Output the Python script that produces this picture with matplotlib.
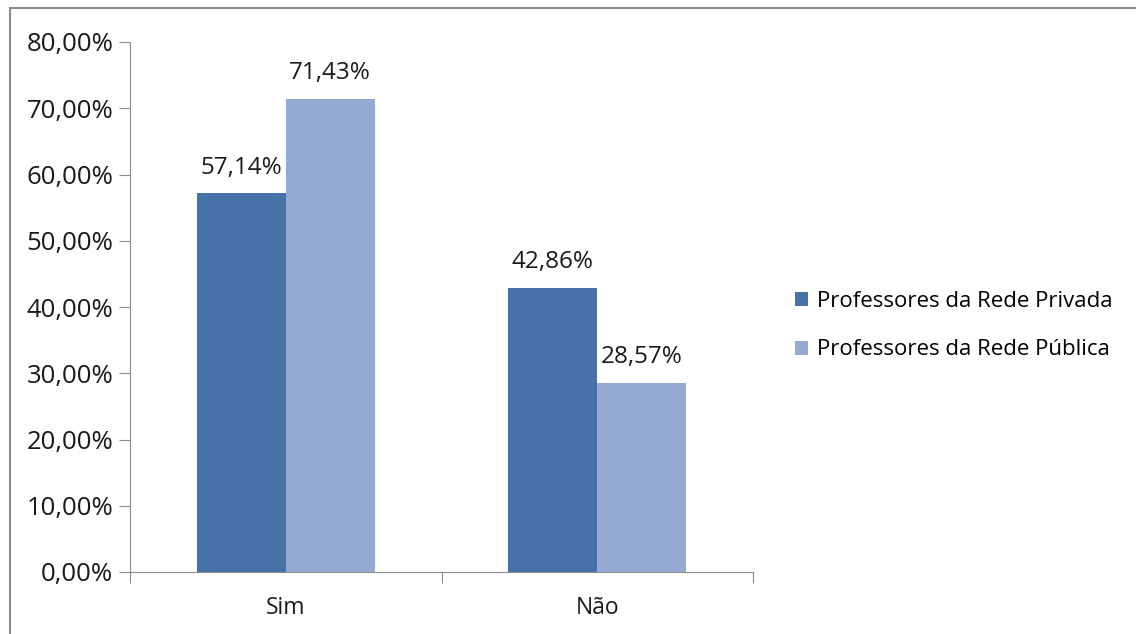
import matplotlib.pyplot as plt
import matplotlib.patches as patches
import numpy as np

plt.rcParams['font.family'] = ['Open Sans', 'DejaVu Sans']

categories = ['Sim', 'Não']
privada = [57.14, 42.86]
publica = [71.43, 28.57]
series_names = ['Professores da Rede Privada', 'Professores da Rede Pública']
colors = ['#4672A8', '#95AAD3']

fig = plt.figure(figsize=(11.36, 6.34), dpi=100)
ax = fig.add_axes([130 / 1136, 62 / 634, 623 / 1136, 530 / 634])

# outer frame like the pasted excel chart
fig.patches.append(patches.Rectangle((10 / 1136, -0.05), 1.2, 1 - 8 / 634 + 0.05,
                                     transform=fig.transFigure, fill=False,
                                     edgecolor='#8c8c8c', linewidth=1.5))

x = np.arange(len(categories))
w = 0.285
b1 = ax.bar(x - w / 2, privada, w, color=colors[0], label=series_names[0])
b2 = ax.bar(x + w / 2, publica, w, color=colors[1], label=series_names[1])

for bars, vals in ((b1, privada), (b2, publica)):
    for bar, v in zip(bars, vals):
        ax.annotate('{:.2f}%'.format(v).replace('.', ','),
                    (bar.get_x() + bar.get_width() / 2, v),
                    xytext=(0, 10), textcoords='offset points',
                    ha='center', va='bottom', fontsize=17.5, color='#1a1a1a')

ax.set_xlim(-0.5, 1.5)
ax.set_ylim(0, 80)
ax.set_yticks(np.arange(0, 81, 10))
ax.set_yticklabels(['{:.2f}%'.format(t).replace('.', ',') for t in np.arange(0, 81, 10)],
                   fontsize=18.5, color='#1a1a1a')
ax.set_xticks([-0.5, 0.5, 1.5])
ax.set_xticklabels([])
ax.set_xticks(x, minor=True)
ax.set_xticklabels(categories, minor=True, fontsize=16.5, color='#1a1a1a')
ax.tick_params(axis='x', which='minor', length=0, pad=17)
ax.tick_params(axis='x', which='major', length=8, color='#8c8c8c')
ax.tick_params(axis='y', length=8, color='#8c8c8c', pad=4)

for s in ['top', 'right']:
    ax.spines[s].set_visible(False)
for s in ['left', 'bottom']:
    ax.spines[s].set_color('#8c8c8c')

ax.legend(loc='center left', bbox_to_anchor=(1.035, 0.465), frameon=False,
          fontsize=16, handlelength=0.6, handleheight=0.6, handletextpad=0.4,
          labelspacing=1.25)

fig.savefig('out.png', dpi=100)
